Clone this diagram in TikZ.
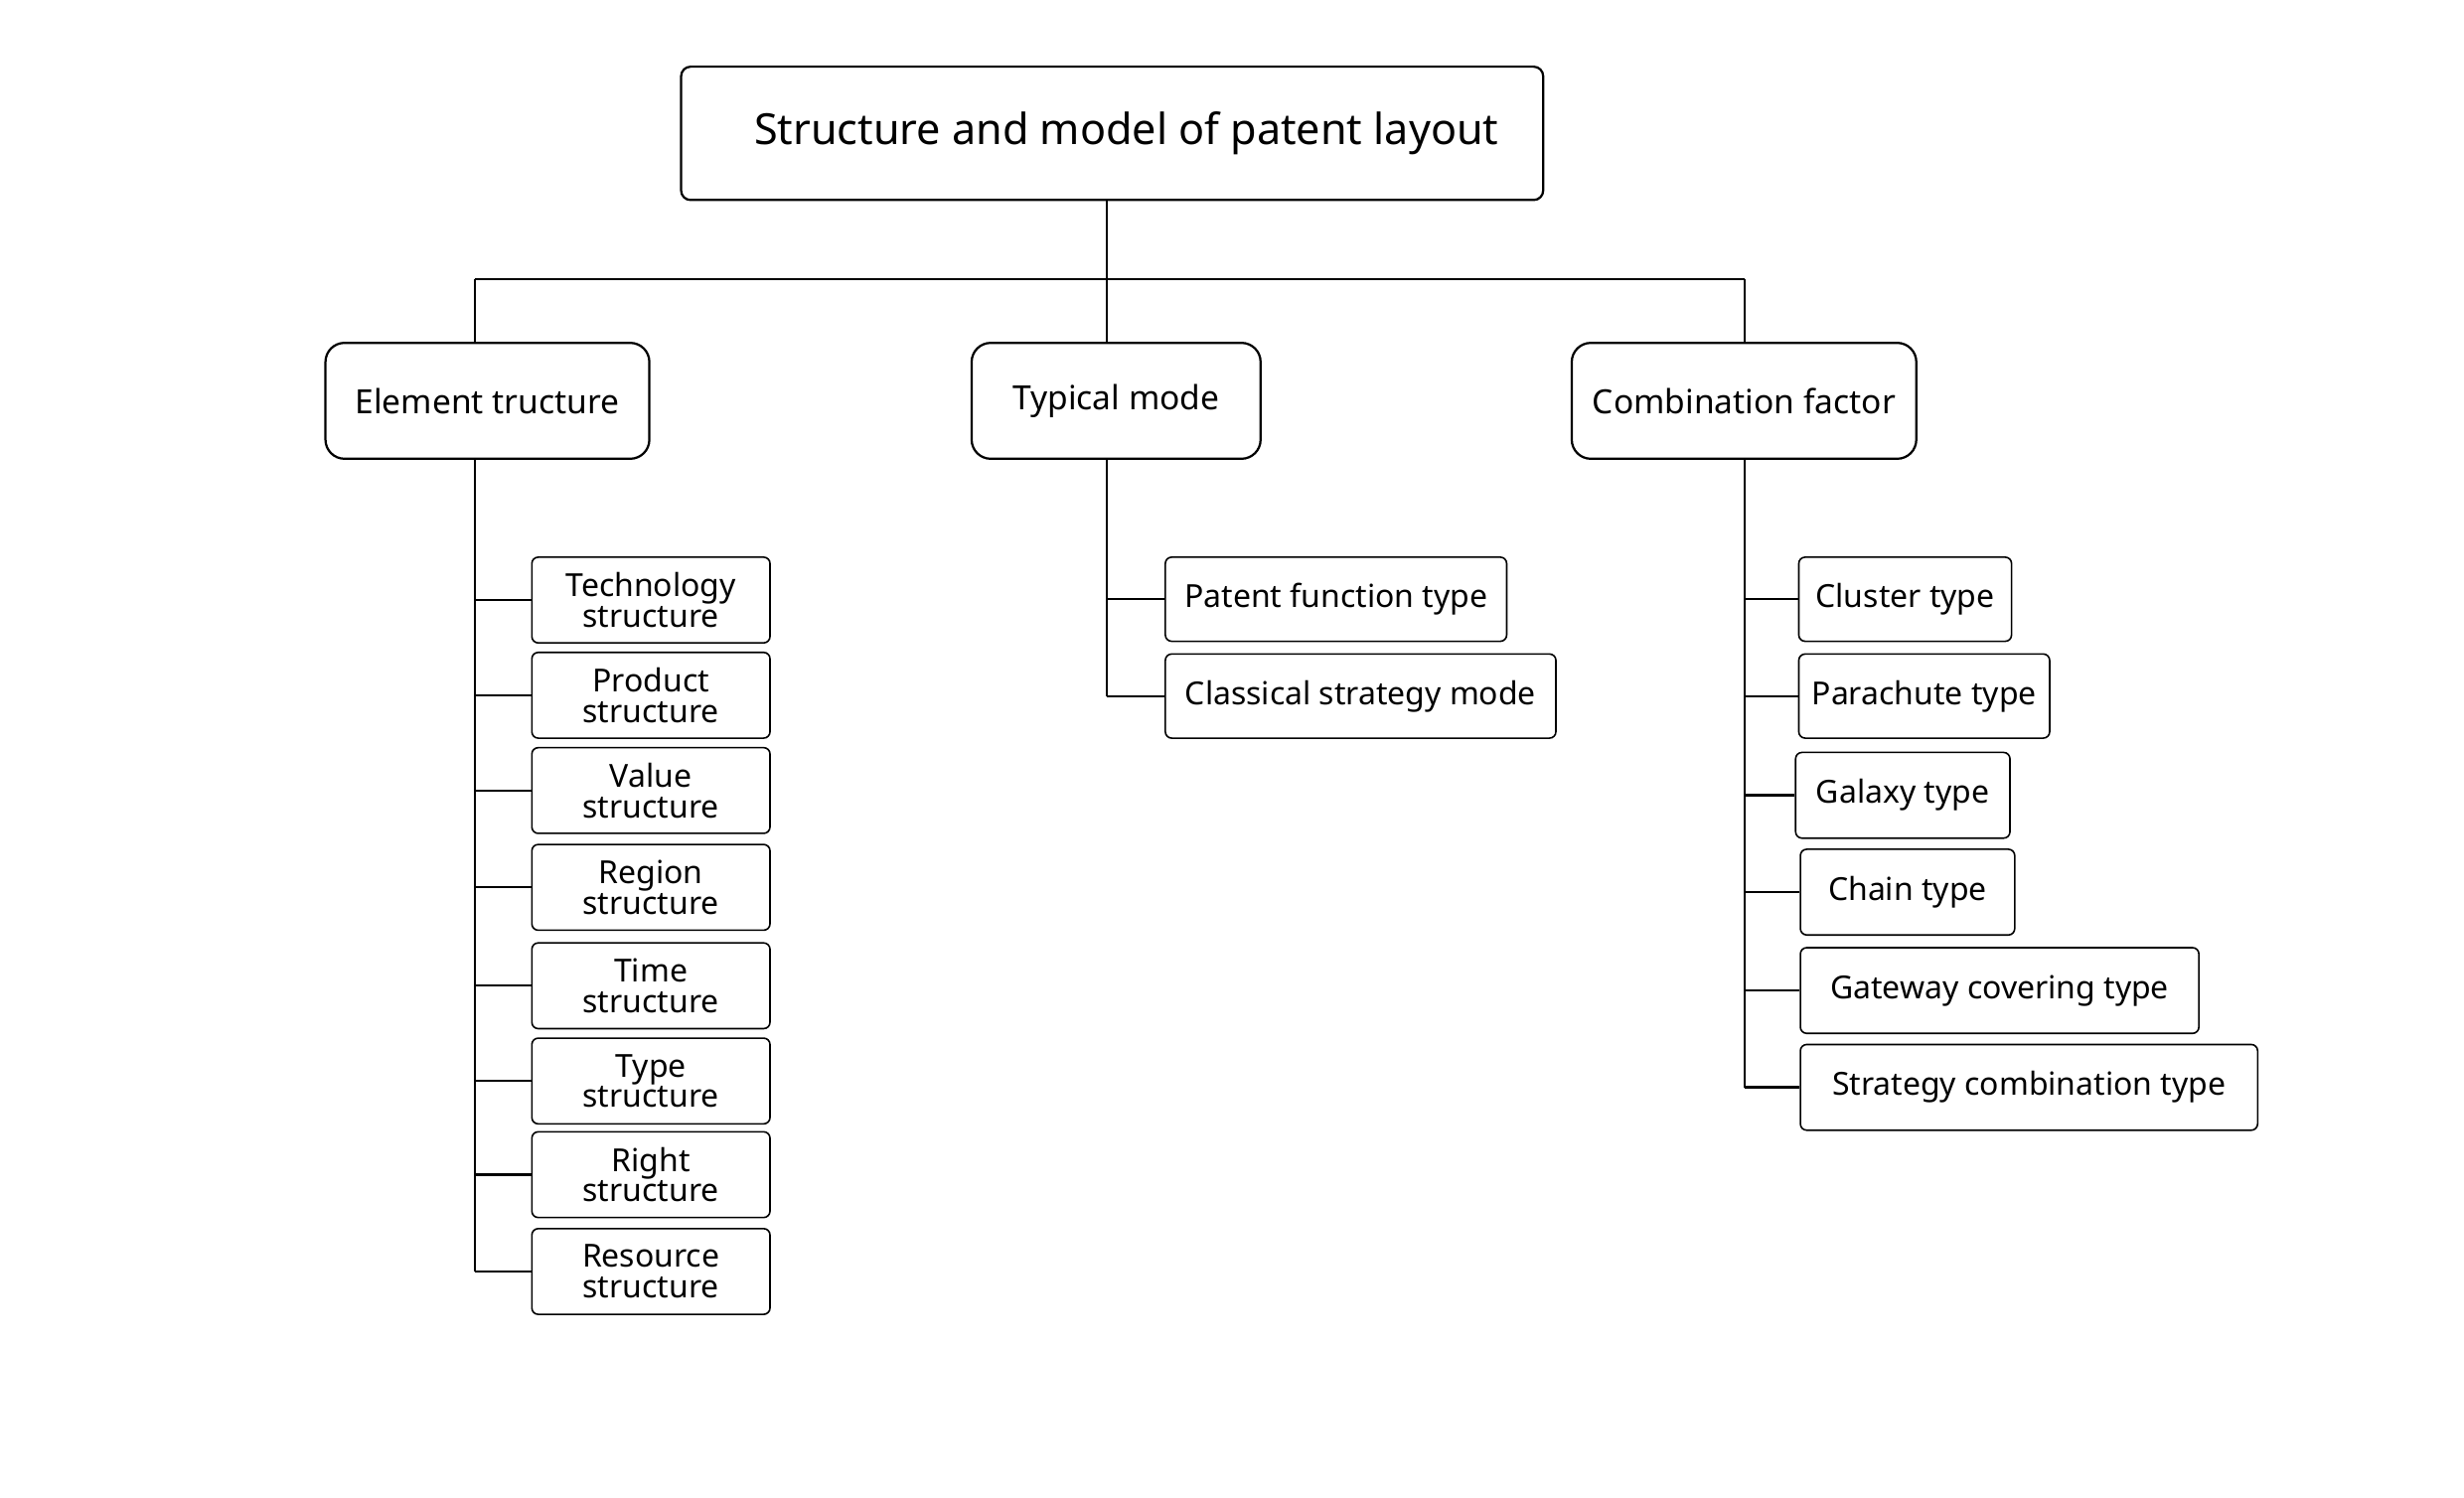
\documentclass[tikz,border=0pt]{standalone}
\usepackage{fontspec}
\setmainfont{Noto Sans}
\begin{document}
\begin{tikzpicture}[x=0.5pt,y=-0.5pt,
  rootbox/.style={draw,line width=0.7pt,rounded corners=3pt,inner sep=0pt,font=\fontsize{13.5}{16}\selectfont},
  midbox/.style={draw,line width=0.7pt,rounded corners=6pt,inner sep=0pt,minimum height=36.5pt,font=\fontsize{10.5}{13}\selectfont},
  leafbox/.style={draw,line width=0.5pt,rounded corners=2pt,inner sep=0pt,font=\fontsize{10}{12}\selectfont},
  twoline/.style={leafbox,minimum width=75pt,minimum height=27pt,align=center,font=\fontsize{10}{9.6}\selectfont},
  conn/.style={line width=0.7pt}]
\useasboundingbox (0,0) rectangle (1552,943.7);
% root
\node[rootbox,minimum width=271.5pt,minimum height=42pt] (root) at (700.5,84) {\hspace*{9pt}Structure and model of patent layout};
% level 2
\node[midbox,minimum width=102pt] (el) at (307,252.5) {Element tructure};
\node[midbox,minimum width=91pt] (tm) at (703,252.5) {Typical mode};
\node[midbox,minimum width=108.5pt] (cf) at (1098.5,252.5) {Combination factor};
% junctions
\coordinate (j1) at (299,176);
\coordinate (j2) at (697,176);
\coordinate (j3) at (1099,176);
% left leaves
\node[twoline] (l1) at (410,378) {Technology\\structure};
\node[twoline] (l2) at (410,438) {Product\\structure};
\node[twoline] (l3) at (410,498) {Value\\structure};
\node[twoline] (l4) at (410,559) {Region\\structure};
\node[twoline] (l5) at (410,621) {Time\\structure};
\node[twoline] (l6) at (410,681) {Type\\structure};
\node[twoline] (l7) at (410,740) {Right\\structure};
\node[twoline] (l8) at (410,801) {Resource\\structure};
% middle leaves
\node[leafbox,minimum width=107.5pt,minimum height=26.5pt] (m1) at (841.5,377.5) {Patent function type};
\node[leafbox,minimum width=123pt,minimum height=26.5pt] (m2) at (857,438.5) {Classical strategy mode};
% right leaves
\node[leafbox,minimum width=67pt,minimum height=26.5pt] (r1) at (1200,377.5) {Cluster type};
\node[leafbox,minimum width=79pt,minimum height=26.5pt] (r2) at (1212,438.5) {Parachute type};
\node[leafbox,minimum width=67.5pt,minimum height=27pt] (r3) at (1198.5,501) {Galaxy type};
\node[leafbox,minimum width=67.5pt,minimum height=27pt] (r4) at (1201.5,562) {Chain type};
\node[leafbox,minimum width=125.5pt,minimum height=27pt] (r5) at (1259.5,624) {Gateway covering type};
\node[leafbox,minimum width=144pt,minimum height=27pt] (r6) at (1278,685) {Strategy combination type};
% connectors top
\draw[conn] (j2 |- root.south) -- (j2);
\draw[conn] (j1) -- (j3);
\draw[conn] (j1) -- (j1 |- el.north);
\draw[conn] (j2) -- (j2 |- tm.north);
\draw[conn] (j3) -- (j3 |- cf.north);
% left branch
\draw[conn] (j1 |- el.south) -- (j1 |- l8.west);
\foreach \n in {l1,l2,l3,l4,l5,l6,l7,l8} \draw[conn] (j1 |- \n.west) -- (\n.west);
% middle branch
\draw[conn] (j2 |- tm.south) -- (j2 |- m2.west);
\foreach \n in {m1,m2} \draw[conn] (j2 |- \n.west) -- (\n.west);
% right branch
\draw[conn] (j3 |- cf.south) -- (j3 |- r6.west);
\foreach \n in {r1,r2,r3,r4,r5,r6} \draw[conn] (j3 |- \n.west) -- (\n.west);
\end{tikzpicture}
\end{document}
